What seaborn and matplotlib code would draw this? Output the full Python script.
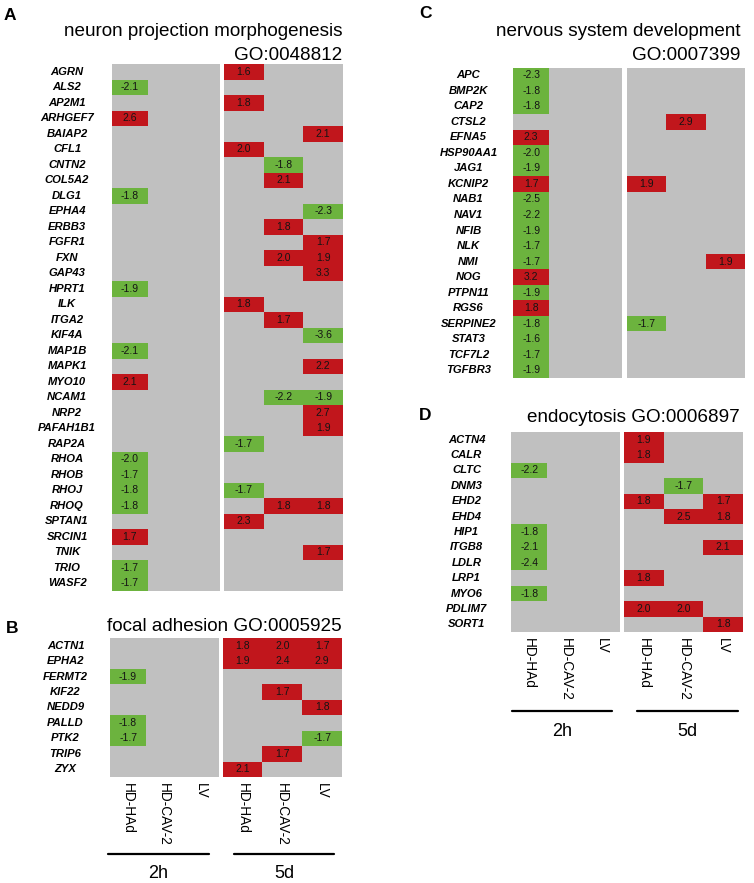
import numpy as np
import pandas as pd
import matplotlib
matplotlib.use('Agg')
import matplotlib.pyplot as plt
import seaborn as sns
from matplotlib.colors import ListedColormap
from matplotlib.lines import Line2D

n = np.nan

conditions = ['HD-HAd', 'HD-CAV-2', 'LV']
times = ['2h', '5d']

# A - neuron projection morphogenesis (cols: 2h HAd, CAV-2, LV | 5d HAd, CAV-2, LV)
genes_a = ['AGRN', 'ALS2', 'AP2M1', 'ARHGEF7', 'BAIAP2', 'CFL1', 'CNTN2', 'COL5A2', 'DLG1',
           'EPHA4', 'ERBB3', 'FGFR1', 'FXN', 'GAP43', 'HPRT1', 'ILK', 'ITGA2', 'KIF4A', 'MAP1B',
           'MAPK1', 'MYO10', 'NCAM1', 'NRP2', 'PAFAH1B1', 'RAP2A', 'RHOA', 'RHOB', 'RHOJ', 'RHOQ',
           'SPTAN1', 'SRCIN1', 'TNIK', 'TRIO', 'WASF2']
fold_a = [
    [n, n, n, 1.6, n, n],
    [-2.1, n, n, n, n, n],
    [n, n, n, 1.8, n, n],
    [2.6, n, n, n, n, n],
    [n, n, n, n, n, 2.1],
    [n, n, n, 2.0, n, n],
    [n, n, n, n, -1.8, n],
    [n, n, n, n, 2.1, n],
    [-1.8, n, n, n, n, n],
    [n, n, n, n, n, -2.3],
    [n, n, n, n, 1.8, n],
    [n, n, n, n, n, 1.7],
    [n, n, n, n, 2.0, 1.9],
    [n, n, n, n, n, 3.3],
    [-1.9, n, n, n, n, n],
    [n, n, n, 1.8, n, n],
    [n, n, n, n, 1.7, n],
    [n, n, n, n, n, -3.6],
    [-2.1, n, n, n, n, n],
    [n, n, n, n, n, 2.2],
    [2.1, n, n, n, n, n],
    [n, n, n, n, -2.2, -1.9],
    [n, n, n, n, n, 2.7],
    [n, n, n, n, n, 1.9],
    [n, n, n, -1.7, n, n],
    [-2.0, n, n, n, n, n],
    [-1.7, n, n, n, n, n],
    [-1.8, n, n, -1.7, n, n],
    [-1.8, n, n, n, 1.8, 1.8],
    [n, n, n, 2.3, n, n],
    [1.7, n, n, n, n, n],
    [n, n, n, n, n, 1.7],
    [-1.7, n, n, n, n, n],
    [-1.7, n, n, n, n, n],
]

# B - focal adhesion
genes_b = ['ACTN1', 'EPHA2', 'FERMT2', 'KIF22', 'NEDD9', 'PALLD', 'PTK2', 'TRIP6', 'ZYX']
fold_b = [
    [n, n, n, 1.8, 2.0, 1.7],
    [n, n, n, 1.9, 2.4, 2.9],
    [-1.9, n, n, n, n, n],
    [n, n, n, n, 1.7, n],
    [n, n, n, n, n, 1.8],
    [-1.8, n, n, n, n, n],
    [-1.7, n, n, n, n, -1.7],
    [n, n, n, n, 1.7, n],
    [n, n, n, 2.1, n, n],
]

# C - nervous system development
genes_c = ['APC', 'BMP2K', 'CAP2', 'CTSL2', 'EFNA5', 'HSP90AA1', 'JAG1', 'KCNIP2', 'NAB1',
           'NAV1', 'NFIB', 'NLK', 'NMI', 'NOG', 'PTPN11', 'RGS6', 'SERPINE2', 'STAT3',
           'TCF7L2', 'TGFBR3']
fold_c = [
    [-2.3, n, n, n, n, n],
    [-1.8, n, n, n, n, n],
    [-1.8, n, n, n, n, n],
    [n, n, n, n, 2.9, n],
    [2.3, n, n, n, n, n],
    [-2.0, n, n, n, n, n],
    [-1.9, n, n, n, n, n],
    [1.7, n, n, 1.9, n, n],
    [-2.5, n, n, n, n, n],
    [-2.2, n, n, n, n, n],
    [-1.9, n, n, n, n, n],
    [-1.7, n, n, n, n, n],
    [-1.7, n, n, n, n, 1.9],
    [3.2, n, n, n, n, n],
    [-1.9, n, n, n, n, n],
    [1.8, n, n, n, n, n],
    [-1.8, n, n, -1.7, n, n],
    [-1.6, n, n, n, n, n],
    [-1.7, n, n, n, n, n],
    [-1.9, n, n, n, n, n],
]

# D - endocytosis
genes_d = ['ACTN4', 'CALR', 'CLTC', 'DNM3', 'EHD2', 'EHD4', 'HIP1', 'ITGB8', 'LDLR', 'LRP1',
           'MYO6', 'PDLIM7', 'SORT1']
fold_d = [
    [n, n, n, 1.9, n, n],
    [n, n, n, 1.8, n, n],
    [-2.2, n, n, n, n, n],
    [n, n, n, n, -1.7, n],
    [n, n, n, 1.8, n, 1.7],
    [n, n, n, n, 2.5, 1.8],
    [-1.8, n, n, n, n, n],
    [-2.1, n, n, n, n, 2.1],
    [-2.4, n, n, n, n, n],
    [n, n, n, 1.8, n, n],
    [-1.8, n, n, n, n, n],
    [n, n, n, 2.0, 2.0, n],
    [n, n, n, n, n, 1.8],
]

sns.set_theme(style='white')
plt.rcParams['font.family'] = ['Liberation Sans', 'DejaVu Sans']
plt.rcParams['text.color'] = 'black'
plt.rcParams['xtick.color'] = 'black'
plt.rcParams['ytick.color'] = 'black'

W, H = 754, 883
fig = plt.figure(figsize=(W / 100, H / 100), dpi=100)

gray = '#c0c0c0'
cmap = ListedColormap(['#6cb33e', '#c1161c'])


def box(x0, y0, x1, y1):
    return [x0 / W, 1 - y1 / H, (x1 - x0) / W, (y1 - y0) / H]


def panel(genes, fold, boxes, show_cols):
    cols = [t + ' ' + c for t in times for c in conditions]
    df = pd.DataFrame(fold, index=genes, columns=cols)
    for i, b in enumerate(boxes):
        ax = fig.add_axes(box(*b))
        sub = df.iloc[:, 3 * i:3 * i + 3]
        sub.columns = conditions
        sns.heatmap(sub, ax=ax, cmap=cmap, vmin=-4, vmax=4, cbar=False,
                    annot=True, fmt='.1f',
                    annot_kws=dict(fontsize=7.5, color='#141414'),
                    xticklabels=show_cols, yticklabels=(i == 0))
        ax.set_facecolor(gray)
        ax.set_xlabel('')
        ax.set_ylabel('')
        ax.tick_params(axis='y', length=0, pad=32)
        ax.tick_params(axis='x', length=0, pad=4.5)
        for lab in ax.get_yticklabels():
            lab.set_rotation(0)
            lab.set_ha('center')
            lab.set_fontsize(8.1)
            lab.set_fontweight('bold')
            lab.set_fontstyle('italic')
            lab.set_color('black')
        for lab in ax.get_xticklabels():
            lab.set_rotation(270)
            lab.set_ha('center')
            lab.set_va('top')
            lab.set_fontsize(9.8)
            lab.set_color('black')


panel(genes_a, fold_a, [(111.5, 64, 220, 591), (224, 64, 343, 591)], False)
panel(genes_b, fold_b, [(110, 638, 218.5, 777), (222.7, 638, 342, 777)], True)
panel(genes_c, fold_c, [(513, 67.5, 622, 378), (626.5, 67.5, 745, 378)], False)
panel(genes_d, fold_d, [(511, 432, 620, 632), (624, 432, 743, 632)], True)


def ftext(x, y, s, **kw):
    fig.text(x / W, 1 - y / H, s, color='black', **kw)


# panel letters
for x, y, s in [(4, 20, 'A'), (6, 633, 'B'), (419, 18, 'C'), (419, 420, 'D')]:
    ftext(x, y, s, fontsize=12.5, fontweight='bold', va='baseline', ha='left')

# titles
ftext(342, 35.5, 'neuron projection morphogenesis', fontsize=13.6, ha='right', va='baseline')
ftext(342, 60, 'GO:0048812', fontsize=13.6, ha='right', va='baseline')
ftext(342, 631, 'focal adhesion GO:0005925', fontsize=13.6, ha='right', va='baseline')
ftext(740, 36.5, 'nervous system development', fontsize=13.6, ha='right', va='baseline')
ftext(740, 60, 'GO:0007399', fontsize=13.6, ha='right', va='baseline')
ftext(740, 422, 'endocytosis GO:0006897', fontsize=13.6, ha='right', va='baseline')

# time brackets
for ly, ty, spans in [(854, 878, [(108, 209), (234, 334)]),
                      (711, 736, [(512, 612), (637, 738)])]:
    for (x0, x1), t in zip(spans, times):
        fig.add_artist(Line2D([x0 / W, x1 / W], [1 - ly / H, 1 - ly / H],
                              color='black', lw=1.6))
        ftext((x0 + x1) / 2, ty, t, fontsize=13, ha='center', va='baseline')

fig.savefig('out.png', dpi=100, facecolor='white')
